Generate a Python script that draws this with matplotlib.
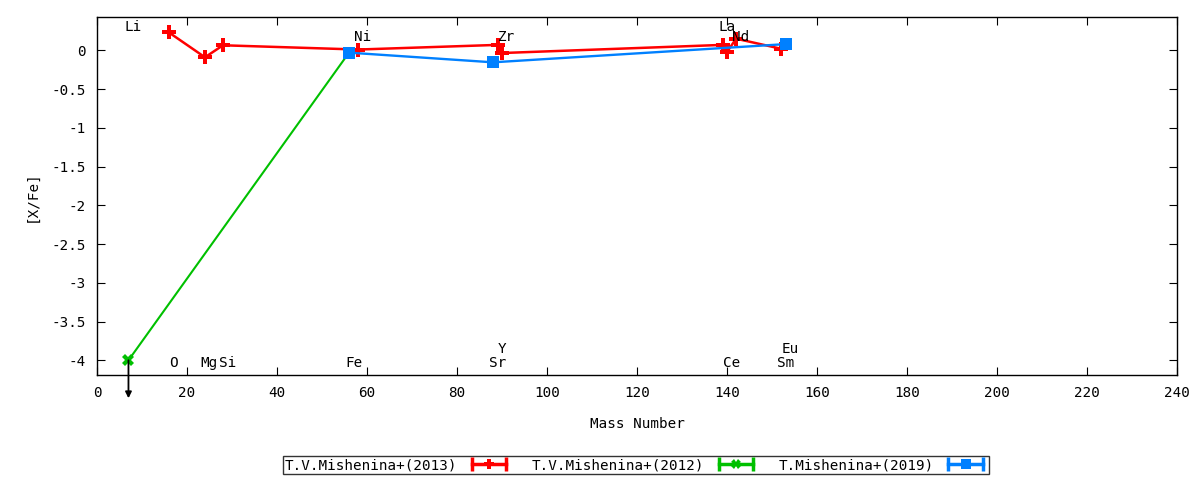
import matplotlib
matplotlib.use('Agg')
import matplotlib.pyplot as plt
from matplotlib.lines import Line2D
from matplotlib.legend_handler import HandlerLine2D, HandlerTuple

# данные: массовое число и [X/Fe]
red_A = [16, 24, 28, 58, 89, 90, 139, 140, 142, 152]
red_X = [0.23, -0.09, 0.065, 0.01, 0.07, -0.035, 0.07, -0.02, 0.15, 0.02]
green_A = [7, 56]
green_X = [-4.0, -0.03]
blue_A = [56, 88, 153]
blue_X = [-0.03, -0.155, 0.08]

# верхний предел для Li
limit_A = 7
limit_X = -4.0
limit_end = -4.49

# подписи элементов
top_names = ['Li', 'Ni', 'Zr', 'La', 'Nd']
top_A = [7, 58, 90, 139, 142]
top_Y = [0.30, 0.17, 0.17, 0.30, 0.17]
bot_names = ['O', 'Mg', 'Si', 'Fe', 'Sr', 'Y', 'Ce', 'Sm', 'Eu']
bot_A = [16, 24, 28, 56, 88, 89, 140, 152, 153]
bot_Y = [-4.04, -4.04, -4.04, -4.04, -4.04, -3.86, -4.04, -4.04, -3.86]

series_names = ['T.V.Mishenina+(2013)', 'T.V.Mishenina+(2012)', 'T.Mishenina+(2019)']

red = '#ff0000'
green = '#00c000'
blue = '#0080ff'

fs = 10.3
plt.rcParams['font.family'] = ['DejaVu Sans Mono']
plt.rcParams['font.size'] = fs

fig = plt.figure(figsize=(12, 4.8), dpi=100)
ax = fig.add_axes([0.0808, 0.2187, 0.9002, 0.7459])

ax.plot(red_A, red_X, color=red, lw=1.8, marker='P', ms=10, mew=0)
ax.plot(green_A, green_X, color=green, lw=1.5, marker='X', ms=8, mew=0)
ax.plot(blue_A, blue_X, color=blue, lw=1.7, marker='s', ms=8, mew=0)

ax.annotate('', xy=(limit_A, limit_end), xytext=(limit_A, limit_X),
            annotation_clip=False,
            arrowprops=dict(arrowstyle='-|>', color='black', lw=1.3,
                            mutation_scale=9, shrinkA=0, shrinkB=0))

for n, a, y in zip(top_names, top_A, top_Y):
    ax.text(a + 1, y, n, ha='center', va='center')
for n, a, y in zip(bot_names, bot_A, bot_Y):
    ax.text(a + 1, y, n, ha='center', va='center')

ax.set_xlim(0, 240)
ax.set_ylim(-4.19, 0.43)
ax.set_xticks(range(0, 241, 20))
ax.set_yticks([0, -0.5, -1, -1.5, -2, -2.5, -3, -3.5, -4])
ax.set_yticklabels(['0', '-0.5', '-1', '-1.5', '-2', '-2.5', '-3', '-3.5', '-4'])
ax.tick_params(direction='in', length=6, top=True, right=True, labelsize=fs, pad=8)
for s in ax.spines.values():
    s.set_linewidth(1)
ax.set_xlabel('Mass Number', labelpad=12)
ax.set_ylabel('[X/Fe]', labelpad=9)

# легенда в стиле gnuplot: текст, затем образец линии с засечками
handles = []
hmap = {}
for c, m in [(red, 'P'), (green, 'X'), (blue, 's')]:
    caps = Line2D([], [], color=c, lw=2.5, marker='|', ms=10, mew=2.5)
    mid = Line2D([], [], color=c, ls='none', marker=m, ms=7, mew=0)
    hmap[caps] = HandlerLine2D(numpoints=2)
    hmap[mid] = HandlerLine2D(numpoints=1)
    handles.append((caps, mid))
hmap[tuple] = HandlerTuple(ndivide=1, pad=0)

leg = fig.legend(handles, series_names, handler_map=hmap, ncol=3,
                 loc='center', bbox_to_anchor=(0.53, 0.031), markerfirst=False,
                 frameon=True, fancybox=False, edgecolor='black',
                 fontsize=fs, handlelength=3.0, columnspacing=1.5,
                 borderpad=0.15, handletextpad=0.7, borderaxespad=0)
leg.get_frame().set_linewidth(1)

fig.savefig('out.png', dpi=100)
